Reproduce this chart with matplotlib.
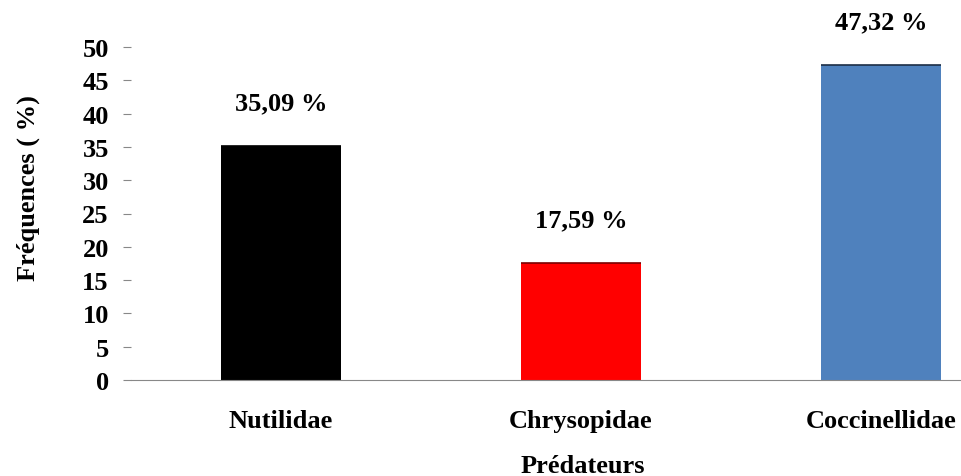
import matplotlib.pyplot as plt

categories = ['Nutilidae', 'Chrysopidae', 'Coccinellidae']
values = [35.09, 17.59, 47.32]
labels = ['35,09 %', '17,59 %', '47,32 %']
colors = ['#000000', '#ff0000', '#4f81bd']
top_edges = ['#000000', '#7a0000', '#1c2e45']
yticks = [0, 5, 10, 15, 20, 25, 30, 35, 40, 45, 50]

plt.rcParams['font.family'] = ['Liberation Serif', 'DejaVu Serif']
plt.rcParams['font.weight'] = 'bold'
fs = 19

fig = plt.figure(figsize=(9.62, 4.77), dpi=100)
ax = fig.add_axes([131 / 962, 96 / 477, 831 / 962, 333 / 477])

x = range(len(categories))
bars = ax.bar(x, values, width=0.4, color=colors)
# darker line along the top of each bar
for b, c in zip(bars, top_edges):
    ax.hlines(b.get_height(), b.get_x(), b.get_x() + b.get_width(), color=c, lw=1.2)
for i, v in enumerate(values):
    ax.annotate(labels[i], (i, v), xytext=(0, 31), textcoords='offset points',
                ha='center', va='center', fontsize=fs, fontweight='bold')

ax.set_xlim(-0.5, 2.27)
ax.set_ylim(0, 50)
ax.set_yticks(yticks)
ax.set_xticks(list(x))
ax.set_xticklabels(categories)
ax.tick_params(axis='x', length=0, pad=21, labelsize=fs)
ax.tick_params(axis='y', length=6, color='#888888', labelsize=fs, pad=10, direction='out')
for lab in ax.get_yticklabels() + ax.get_xticklabels():
    lab.set_fontweight('bold')

for s in ['top', 'right', 'left']:
    ax.spines[s].set_visible(False)
ax.spines['bottom'].set_color('#888888')

ax.set_ylabel('Fréquences ( %)', fontsize=fs, fontweight='bold')
ax.yaxis.set_label_coords(-0.11, 0.58)
ax.set_xlabel('Prédateurs', fontsize=fs, fontweight='bold')
ax.xaxis.set_label_coords(0.5437, -0.222)

fig.savefig('out.png', dpi=100)
